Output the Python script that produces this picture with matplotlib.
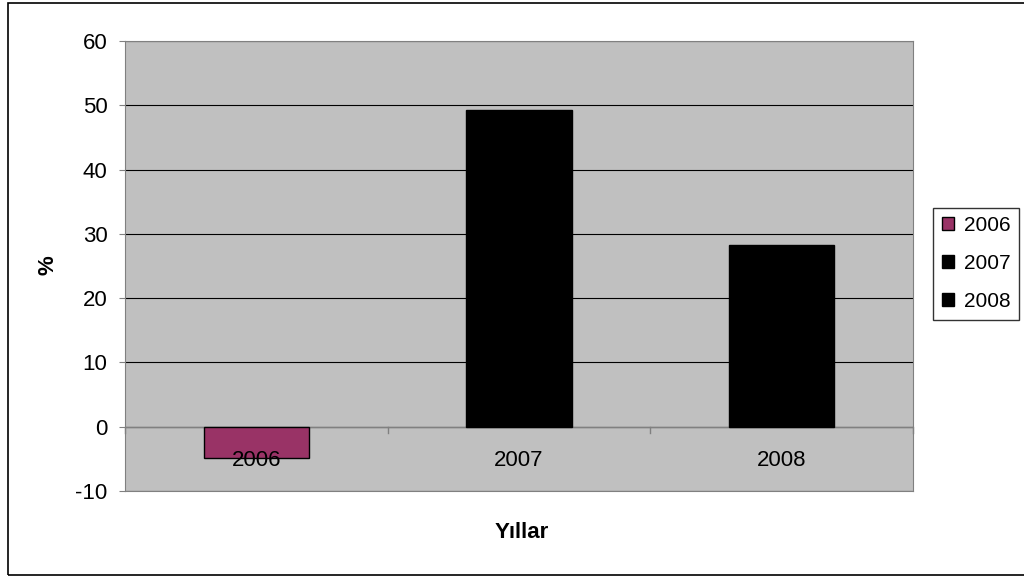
import matplotlib.pyplot as plt
from matplotlib.patches import Rectangle, Patch

years = ["2006", "2007", "2008"]
values = [-4.8, 49.3, 28.3]
colors = ["#993366", "#000000", "#000000"]

plt.rcParams['font.family'] = ['Liberation Sans', 'DejaVu Sans']
plt.rcParams['axes.unicode_minus'] = False

fig = plt.figure(figsize=(10.24, 5.78), dpi=100)
ax = fig.add_axes([0.122, 0.1505, 0.7696, 0.7785])
ax.set_facecolor("#C0C0C0")

x = range(len(years))
ax.bar(x, values, width=0.4, color=colors, edgecolor="black", linewidth=1, zorder=3)

ax.set_xlim(-0.5, 2.5)
ax.set_ylim(-10, 60)
ax.set_yticks(range(-10, 61, 10))
ax.yaxis.grid(True, color="#000000", linewidth=0.8, zorder=1)
ax.tick_params(axis="y", direction="out", length=4, labelsize=16, color="#808080", pad=8.5)

# category axis drawn at y=0
ax.set_xticks([])
ax.axhline(0, color="#808080", linewidth=1, zorder=2)
for b in [-0.5, 0.5, 1.5, 2.5]:
    ax.plot([b, b], [0, -0.9], color="#808080", linewidth=1, zorder=2, clip_on=False)
for i, y in enumerate(years):
    ax.text(i, -5.3, y, ha="center", va="center", fontsize=16, zorder=4)

for s in ax.spines.values():
    s.set_color("#808080")

fig.text(48 / 1024, 1 - 265 / 578, "%", rotation=90, ha="center", va="center",
         fontsize=16, fontweight="bold")
fig.text(522 / 1024, 1 - 532 / 578, "Yıllar", ha="center", va="center",
         fontsize=16, fontweight="bold")

handles = [Patch(facecolor=c, edgecolor="black" if i == 0 else c) for i, c in enumerate(colors)]
leg = fig.legend(handles, years, loc="center left", bbox_to_anchor=(0.911, 0.544),
                 fontsize=15, frameon=True, fancybox=False, handlelength=0.58,
                 handleheight=0.58, handletextpad=0.48, labelspacing=0.9,
                 borderpad=0.42, borderaxespad=0)
leg.get_frame().set_edgecolor("black")
leg.get_frame().set_linewidth(1)

fig.patches.append(Rectangle((7.5 / 1024, 3 / 578), 1.2, 1 - 6 / 578, transform=fig.transFigure,
                             fill=False, edgecolor="black", linewidth=1.2))

plt.savefig("out.png", dpi=100)
plt.close()
